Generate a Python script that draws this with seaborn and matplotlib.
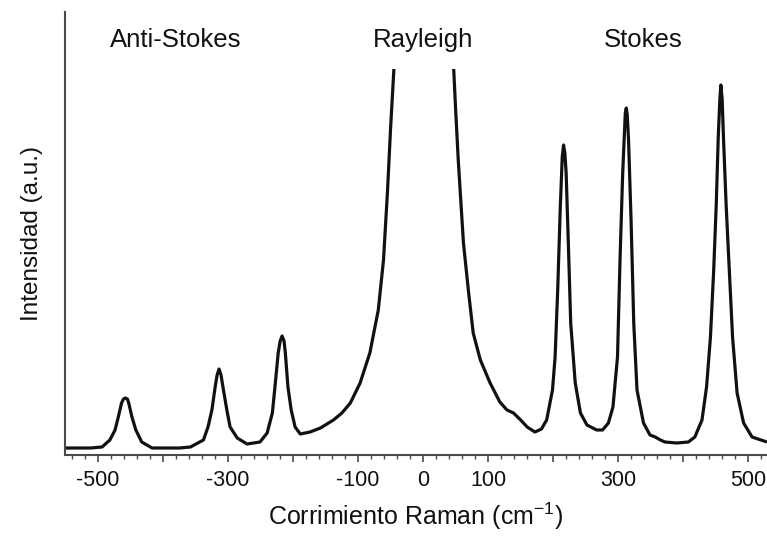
import numpy as np
import pandas as pd
import matplotlib
matplotlib.use("Agg")
import matplotlib.pyplot as plt
import seaborn as sns
from matplotlib.ticker import FixedLocator, FixedFormatter, MultipleLocator

# ---- data ----
# anti-Stokes side + left wing of the (off-scale) Rayleigh line
shift_left = [-551, -530, -512, -494, -482, -474, -469, -464, -461, -458, -455,
              -453, -448, -442, -433, -417, -395, -375, -358, -338, -331, -325,
              -320, -317, -314, -311, -308, -302, -297, -286, -271, -251, -240,
              -232, -228, -223, -220, -217, -214, -212, -208, -203, -197, -189,
              -174, -158, -138, -125, -112, -97, -82, -69, -61, -55, -50, -45]
intensity_left = [7, 7, 7, 8, 15, 25, 38, 52, 56, 57, 56,
                  52, 38, 25, 13, 7, 7, 7, 8, 15, 28, 45,
                  68, 80, 86, 80, 68, 45, 28, 17, 11, 13, 22,
                  42, 68, 102, 114, 119, 114, 102, 68, 45, 28, 21,
                  23, 27, 35, 42, 52, 72, 102, 145, 195, 262, 328, 386]

# right wing of the Rayleigh line + Stokes side
shift_right = [47, 50, 54, 62, 70, 77, 88, 103, 118, 129, 139, 150, 160, 172,
               182, 190, 199, 203, 207, 211, 214, 216, 218, 220, 224, 227, 234,
               242, 252, 267, 276, 285, 292, 299, 303, 307, 311, 312.5, 314,
               316, 320, 324, 329, 339, 349, 357, 365, 372, 390, 408, 418, 429,
               436, 442, 447, 451, 454, 456.5, 458, 460, 462, 466, 471, 476,
               483, 493, 506, 529]
intensity_right = [386, 345, 295, 212, 162, 122, 95, 72, 53, 45, 42, 35, 28, 23,
                   26, 35, 65, 98, 165, 248, 298, 310, 302, 282, 198, 132, 72,
                   42, 30, 25, 25, 32, 48, 98, 198, 282, 342, 347, 340,
                   315, 232, 132, 65, 32, 20, 18, 15, 13, 12, 13, 18, 35,
                   68, 118, 185, 252, 318, 356, 370, 356, 318, 252, 185, 118,
                   62, 32, 18, 13]

tick_values = [-500, -400, -300, -200, -100, 0, 100, 200, 300, 400, 500]
tick_labels = ["-500", "", "-300", "", "-100", "0", "100", "", "300", "", "500"]
region_names = ["Anti-Stokes", "Rayleigh", "Stokes"]
x_label = "Corrimiento Raman (cm$^{\\mathrm{-1}}$)"
y_label = "Intensidad (a.u.)"

# ---- style ----
sns.set_style("ticks")
plt.rcParams["font.family"] = ["Liberation Sans", "DejaVu Sans"]
plt.rcParams["mathtext.fontset"] = "custom"
plt.rcParams["mathtext.rm"] = "Liberation Sans"
plt.rcParams["mathtext.it"] = "Liberation Sans:italic"
plt.rcParams["mathtext.bf"] = "Liberation Sans:bold"
plt.rcParams["mathtext.sf"] = "Liberation Sans"

df = pd.concat([
    pd.DataFrame({"shift": shift_left, "intensity": intensity_left, "segment": "left"}),
    pd.DataFrame({"shift": shift_right, "intensity": intensity_right, "segment": "right"}),
], ignore_index=True)

fig = plt.figure(figsize=(7.67, 5.4), dpi=100)
ax = fig.add_axes([65 / 767, 85 / 540, 702 / 767, 443 / 540])

sns.lineplot(data=df, x="shift", y="intensity", units="segment", estimator=None,
             color="#111111", linewidth=2.3, ax=ax, sort=False, legend=False)
for ln in ax.get_lines():
    ln.set_solid_joinstyle("round")
    ln.set_solid_capstyle("butt")

ax.set_xlim(-551, 529)
ax.set_ylim(0, 443)

ax.xaxis.set_major_locator(FixedLocator(tick_values))
ax.xaxis.set_major_formatter(FixedFormatter(tick_labels))
ax.xaxis.set_minor_locator(MultipleLocator(20))
ax.set_yticks([])

for s in ["top", "right"]:
    ax.spines[s].set_visible(False)
for s in ["left", "bottom"]:
    ax.spines[s].set_color("#4a4a4a")
    ax.spines[s].set_linewidth(1.5)

ax.tick_params(axis="x", which="major", direction="out", length=5, width=1.2,
               color="#4a4a4a", labelsize=15.5, pad=6, labelcolor="#111111")
ax.tick_params(axis="x", which="minor", direction="out", length=3.2, width=1.0,
               color="#4a4a4a")

ax.set_xlabel(x_label, fontsize=18, labelpad=7, color="#111111")
ax.set_ylabel(y_label, fontsize=17.5, labelpad=16, color="#111111")

region_x = [-381, 0, 338]
for name, xpos in zip(region_names, region_x):
    ax.text(xpos, 408, name, ha="center", va="baseline", fontsize=18.5,
            color="#111111")

fig.savefig("out.png", dpi=100)
